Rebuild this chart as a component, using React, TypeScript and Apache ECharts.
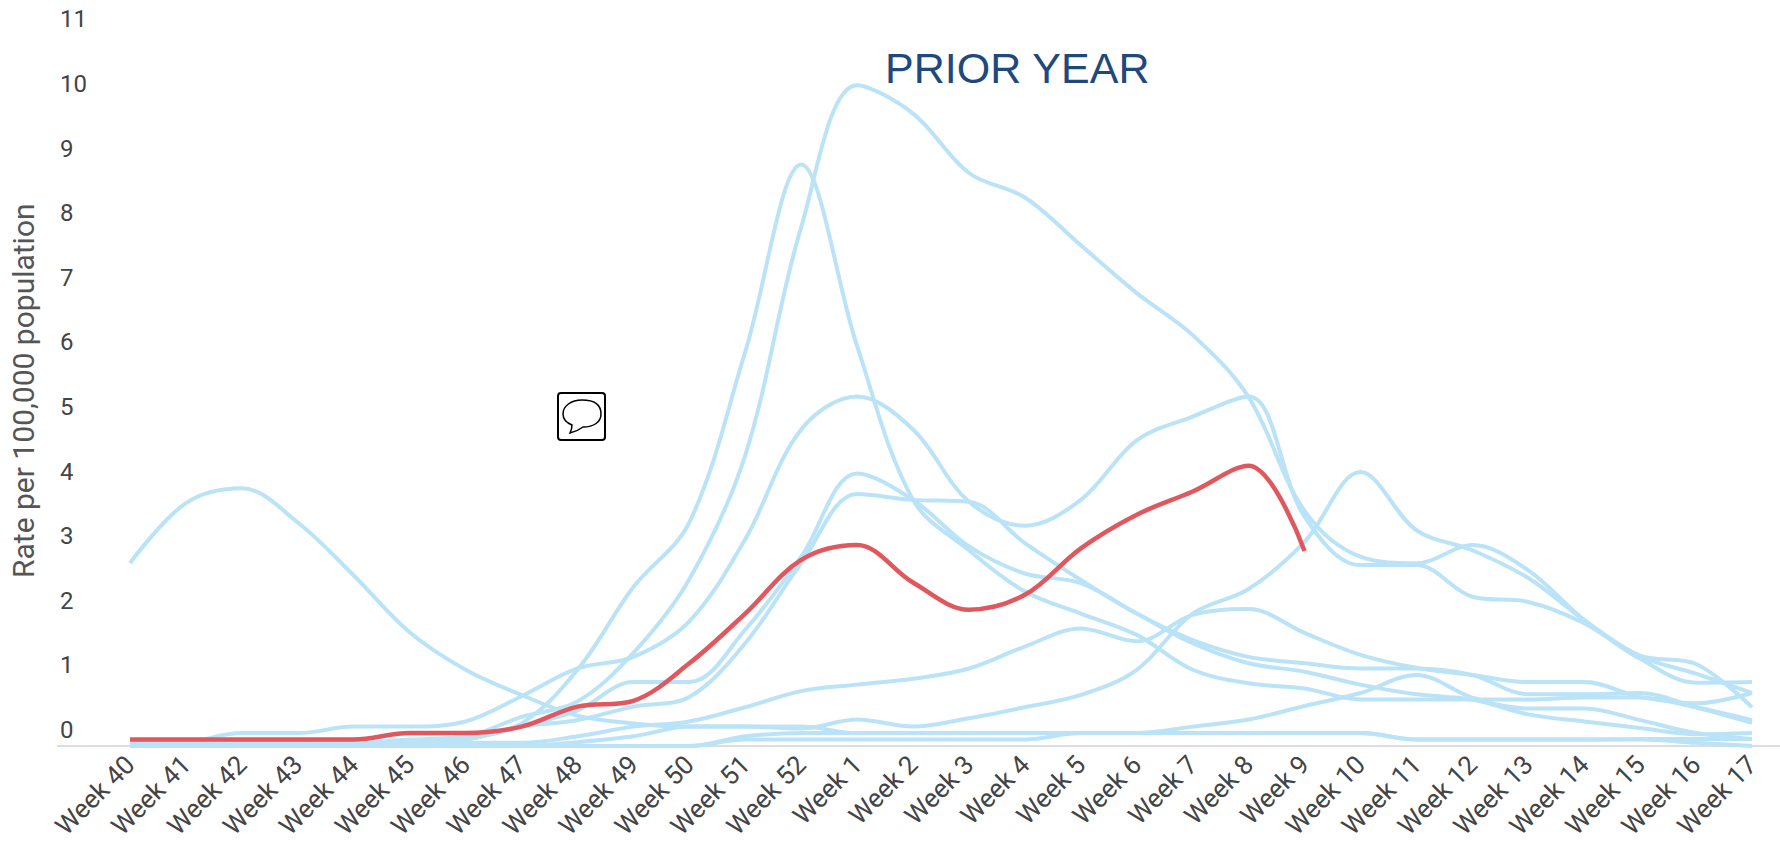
import React, { useEffect, useRef } from "react";
import * as echarts from "echarts";

const weeks = [
  "Week 40","Week 41","Week 42","Week 43","Week 44","Week 45","Week 46","Week 47","Week 48","Week 49","Week 50","Week 51","Week 52",
  "Week 1","Week 2","Week 3","Week 4","Week 5","Week 6","Week 7","Week 8","Week 9","Week 10","Week 11","Week 12","Week 13","Week 14","Week 15","Week 16","Week 17",
];
const yTicks = [0,1,2,3,4,5,6,7,8,9,10,11];

const seasonA = [0,0,0,0.05,0.05,0.1,0.15,0.45,0.69,1.44,2.58,4.5,8.03,10.23,9.79,8.87,8.49,7.75,7.01,6.36,5.4,3.64,2.93,2.83,3.11,2.72,1.95,1.4,1.27,0.6];
const seasonB = [0,0,0,0,0,0.05,0.15,0.35,1.18,2.46,3.46,6.1,9.0,6.19,3.81,3.03,2.39,2.05,1.72,1.18,0.97,0.89,0.72,0.72,0.72,0.72,0.75,0.75,0.6,0.4];
const seasonC = [0,0.05,0.2,0.2,0.3,0.3,0.38,0.77,1.2,1.38,1.93,3.2,4.9,5.41,4.9,3.78,3.41,3.81,4.73,5.1,5.41,3.55,2.8,2.8,2.31,2.23,1.9,1.35,0.98,0.99];
const seasonD = [0,0,0.02,0.02,0.05,0.05,0.1,0.3,0.55,0.99,0.99,1.8,2.93,4.22,3.81,3.09,2.67,2.52,2.05,1.59,1.28,1.15,0.95,0.8,0.72,0.49,0.38,0.28,0.18,0.2];
const seasonE = [0,0,0,0.02,0.02,0.05,0.1,0.3,0.4,0.61,0.76,1.59,2.83,3.9,3.81,3.78,3.14,2.57,2.05,1.64,1.38,1.28,1.2,1.2,1.1,0.8,0.8,0.82,0.6,0.36];
const seasonG = [2.83,3.76,3.99,3.46,2.64,1.76,1.18,0.79,0.47,0.35,0.3,0.3,0.3,0.2,0.2,0.2,0.2,0.2,0.2,0.2,0.2,0.2,0.2,0.1,0.1,0.1,0.1,0.11,0.11,0.11];
const seasonH = [0.05,0.05,0.05,0.05,0.05,0.05,0.05,0.05,0.15,0.3,0.38,0.6,0.85,0.95,1.04,1.2,1.54,1.82,1.62,2.03,2.12,1.75,1.41,1.21,1.1,0.99,0.99,0.76,0.66,0.82];
const seasonJ = [0,0,0,0,0,0,0,0,0.06,0.15,0.3,0.3,0.27,0.41,0.3,0.43,0.6,0.79,1.18,2.05,2.43,3.16,4.24,3.34,3.03,2.6,1.95,1.39,1.12,0.82];
const seasonK = [0,0,0,0,0,0,0,0,0,0,0,0.15,0.2,0.2,0.2,0.2,0.2,0.2,0.2,0.3,0.41,0.62,0.82,1.1,0.75,0.58,0.58,0.4,0.2,0.11];
const seasonL = [0,0,0,0,0,0,0,0,0,0,0,0.1,0.1,0.1,0.1,0.1,0.1,0.2,0.2,0.2,0.2,0.2,0.2,0.1,0.1,0.1,0.1,0.1,0.05,0];
const currentYear = [0.1,0.1,0.1,0.1,0.1,0.2,0.2,0.3,0.61,0.7,1.28,2.05,2.88,3.11,2.53,2.11,2.34,3.06,3.58,3.94,4.34,3.02];

const priorSeasons = [seasonA, seasonB, seasonC, seasonD, seasonE, seasonG, seasonH, seasonJ, seasonK, seasonL];

const BUBBLE = "M38 20 C38 10 30 6 19 6 C8 6 0 12 0 20 C0 25 4 29 9 31 C9 34 8 37 7 39 C12 38 16 36 20 33 C31 33 38 28 38 20 Z";

let registered = false;

export default function App() {
  const ref = useRef<HTMLDivElement>(null);
  useEffect(() => {
    document.body.style.margin = "0";
    if (!registered) {
      echarts.graphic.registerShape("bubble", echarts.graphic.extendPath(BUBBLE, {}) as any);
      registered = true;
    }
    const chart = echarts.init(ref.current!, undefined, { renderer: "svg" });
    const lineSeries = priorSeasons.map((data) => ({
      type: "line",
      data,
      smooth: 0.35,
      symbol: "none",
      clip: false,
      lineStyle: { color: "#BAE3F7", width: 4 },
      z: 2,
    }));
    chart.setOption({
      animation: false,
      backgroundColor: "#ffffff",
      grid: { left: 126, top: 35.4, width: 1626, height: 710.6, containLabel: false },
      xAxis: {
        type: "category",
        data: weeks,
        boundaryGap: false,
        axisLine: { show: false },
        axisTick: { show: false },
        splitLine: { show: false },
        axisLabel: {
          interval: 0,
          rotate: 45,
          margin: 14,
          fontFamily: "Roboto",
          fontSize: 26,
          color: "#444444",
        },
      },
      yAxis: {
        type: "value",
        min: yTicks[0],
        max: yTicks[yTicks.length - 1],
        interval: 1,
        name: "Rate per 100,000 population",
        nameLocation: "middle",
        nameGap: 92,
        nameTextStyle: { fontFamily: "Roboto", fontSize: 30, color: "#555555" },
        axisLine: { show: false },
        axisTick: { show: false },
        splitLine: { show: false },
        axisLabel: {
          align: "left",
          margin: 70,
          fontFamily: "Roboto",
          fontSize: 24,
          color: "#444444",
          verticalAlign: "bottom",
          padding: [0, 0, 4, 0],
        },
      },
      series: [
        ...lineSeries,
        {
          type: "line",
          data: currentYear,
          smooth: 0.35,
          symbol: "none",
          clip: false,
          lineStyle: { color: "#E0575E", width: 4.5 },
          z: 3,
        },
      ],
      graphic: [
        { type: "line", z: 1, shape: { x1: 57, y1: 746, x2: 1780, y2: 746 }, style: { stroke: "#DDDDDD", lineWidth: 2 } },
        {
          type: "text",
          x: 885,
          y: 46,
          style: { text: "PRIOR YEAR", fontFamily: "Liberation Sans", fontSize: 43, fill: "#1F497D" },
        },
        {
          type: "rect",
          shape: { x: 558, y: 393, width: 47, height: 47, r: 3 },
          style: { fill: "#ffffff", stroke: "#000000", lineWidth: 2 },
        },
        {
          type: "bubble",
          x: 563,
          y: 394,
          style: { fill: "#ffffff", stroke: "#000000", lineWidth: 1.5 },
        },
      ],
    });
    return () => chart.dispose();
  }, []);
  return <div ref={ref} style={{ position: "absolute", left: 0, top: 0, width: 1780, height: 849 }} />;
}
